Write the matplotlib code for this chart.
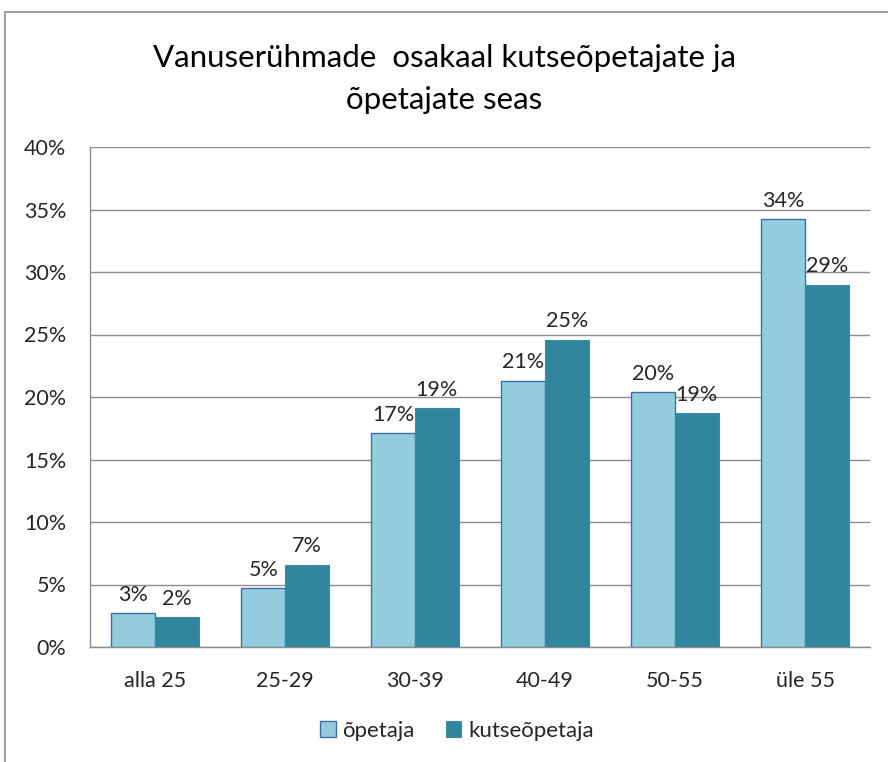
import numpy as np
import matplotlib.pyplot as plt
from matplotlib.patches import Rectangle
from matplotlib.ticker import PercentFormatter

plt.rcParams['font.family'] = ['Lato', 'DejaVu Sans']

categories = ['alla 25', '25-29', '30-39', '40-49', '50-55', 'üle 55']
opetaja = [2.7, 4.7, 17.1, 21.3, 20.4, 34.2]
kutseopetaja = [2.4, 6.6, 19.1, 24.6, 18.7, 29.0]
series_names = ['õpetaja', 'kutseõpetaja']

title = 'Vanuserühmade  osakaal kutseõpetajate ja\nõpetajate seas'

light = '#93CDDD'
dark = '#31859C'
edge = '#3B6FA8'
text_col = '#262626'

fig = plt.figure(figsize=(8.88, 7.62), dpi=100)
# outer chart frame (cropped at right/bottom like the original)
fig.patches.append(Rectangle((5 / 888, -0.05), 1.1, 1 - 12 / 762 + 0.05,
                             transform=fig.transFigure, fill=False,
                             edgecolor='#8c8c8c', linewidth=1.2))

ax = fig.add_axes([90 / 888, 1 - 647 / 762, 780 / 888, 500 / 762])

x = np.arange(len(categories))
w = 0.335
b1 = ax.bar(x - w / 2, opetaja, w, color=light, edgecolor=edge, linewidth=1.0,
            label=series_names[0], zorder=3)
b2 = ax.bar(x + w / 2, kutseopetaja, w, color=dark, edgecolor='#3a8aa0', linewidth=0.8,
            label=series_names[1], zorder=3)

for bars in (b1, b2):
    ax.bar_label(bars, labels=[f'{v:.0f}%' for v in bars.datavalues], padding=6,
                 fontsize=15.5, color=text_col)

ax.set_xlim(-0.5, len(categories) - 0.5)
ax.set_ylim(0, 40)
ax.set_yticks(np.arange(0, 41, 5))
ax.yaxis.set_major_formatter(PercentFormatter(decimals=0))
ax.set_xticks(x)
ax.set_xticklabels(categories)
ax.tick_params(axis='both', labelsize=15.5, colors=text_col, length=0)
ax.tick_params(axis='x', pad=17)
ax.tick_params(axis='y', pad=17)
ax.grid(axis='y', color='#8c8c8c', linewidth=1.0, zorder=0)
for s in ('top', 'right'):
    ax.spines[s].set_visible(False)
for s in ('left', 'bottom'):
    ax.spines[s].set_color('#8c8c8c')
    ax.spines[s].set_linewidth(1.0)

fig.text(0.5, 1 - 79 / 762, title, ha='center', va='center', fontsize=22.5,
         color='black', linespacing=1.65)

fig.legend(handles=[b1, b2], loc='center', bbox_to_anchor=(457 / 888, 1 - 731 / 762),
           ncol=2, frameon=False, fontsize=16, handlelength=0.7, handleheight=0.7,
           handletextpad=0.3, columnspacing=1.4, labelcolor=text_col)

fig.savefig('out.png', dpi=100)
